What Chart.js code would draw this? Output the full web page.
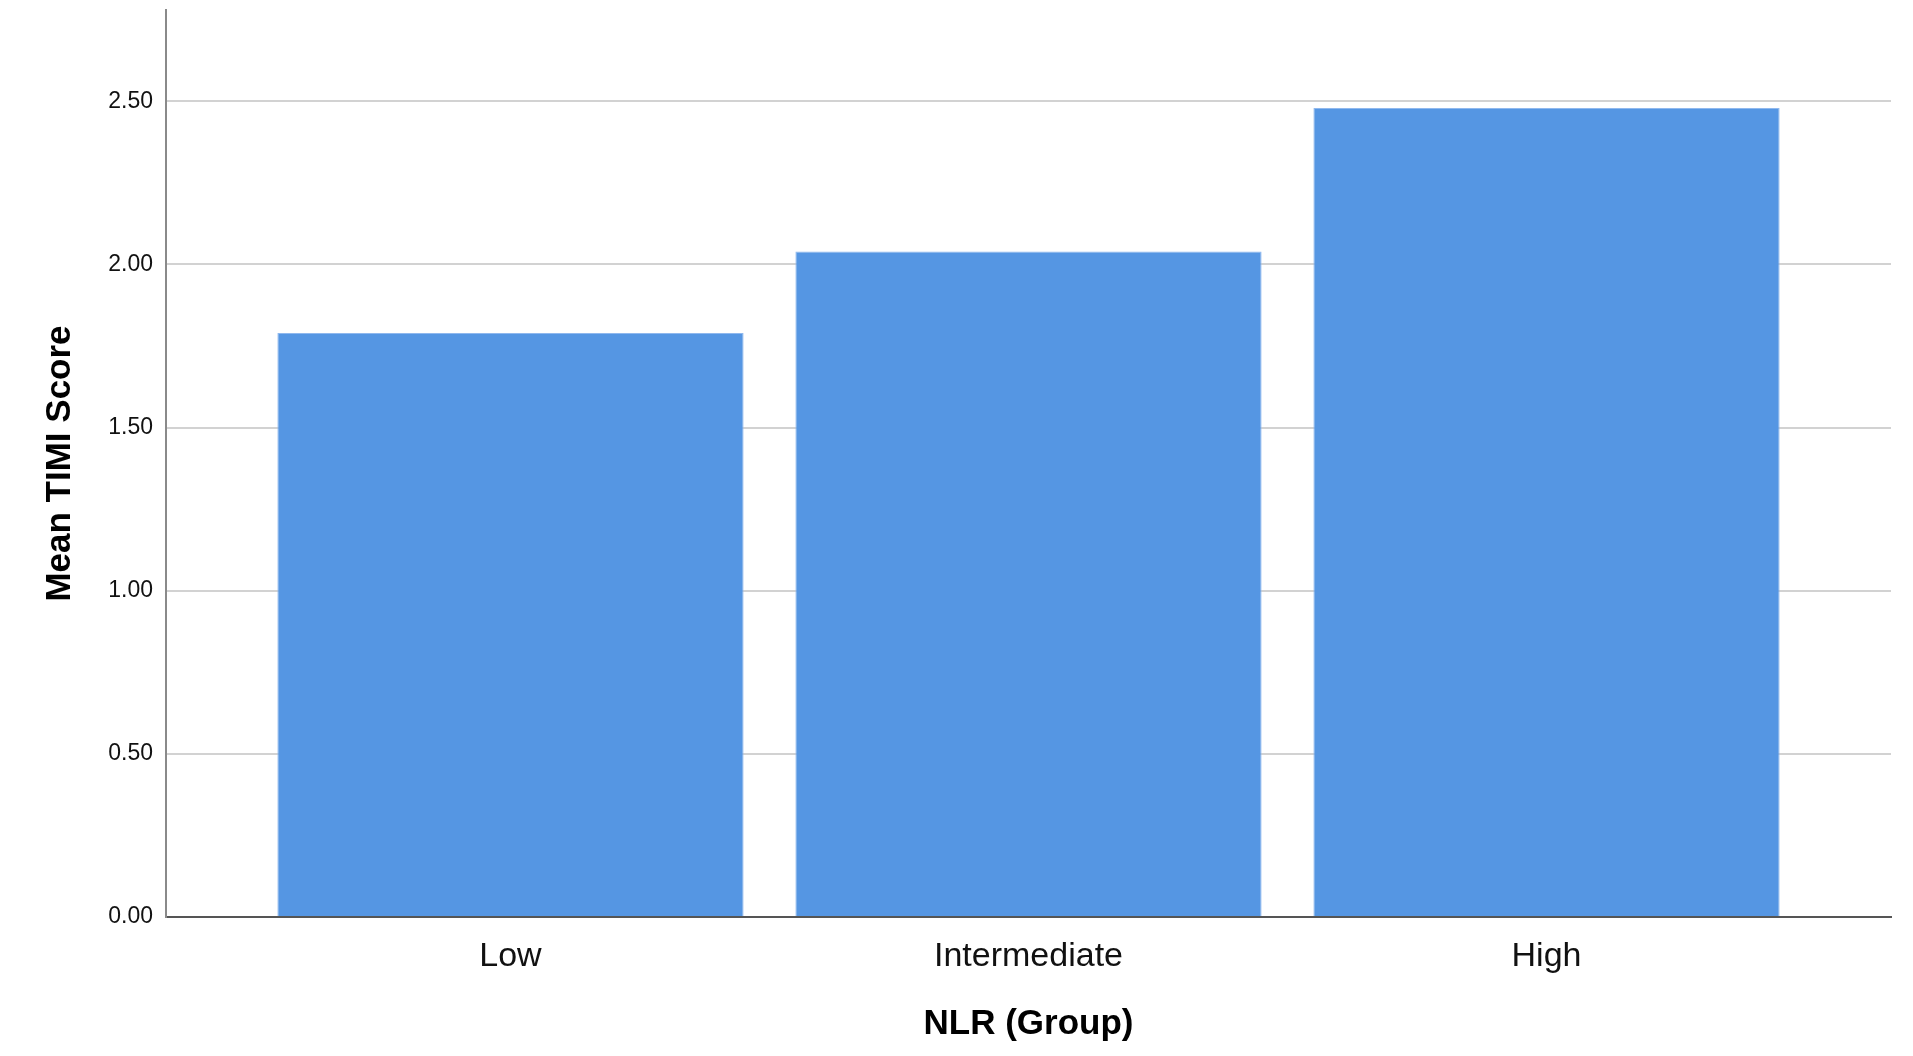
<!DOCTYPE html>
<html>
<head>
<meta charset="utf-8">
<script src="https://cdn.jsdelivr.net/npm/chart.js@4.4.1/dist/chart.umd.min.js"></script>
<style>
	html, body { margin: 0; padding: 0; background: #ffffff; }
	#wrap { width: 1913px; height: 1056px; }
</style>
</head>
<body>
<div id="wrap"><canvas id="timiChart" width="1913" height="1056"></canvas></div>
<script>
// categories and means
var groups = ["Low", "Intermediate", "High"];
var meanTimi = [1.79, 2.04, 2.48];
var yTicks = [0, 0.5, 1, 1.5, 2, 2.5];

var fontFamily = "'Liberation Sans', Arial, sans-serif";

var ctx = document.getElementById('timiChart').getContext('2d');

var dataset = {
	datasets: [
		{
		label: 'Mean TIMI Score',
		backgroundColor: '#5596e3',
		borderColor: '#8fb8ee',
		borderWidth: 1,
		barPercentage: 0.9,
		categoryPercentage: 1.0,
		data: meanTimi.map((v, i) => ({x: i, y: v}))
		}
	]
};

var options = {
	responsive: false,
	animation: false,
	layout: {
		padding: {top: 10, right: 22, bottom: 0, left: 0}
	},
	plugins: {
		legend: {display: false},
		tooltip: {enabled: false}
	},
	scales: {
		x: {
			type: 'linear',
			offset: false,
			bounds: 'data',
			min: -0.665,
			max: 2.665,
			afterBuildTicks: function(scale) {
				scale.ticks = groups.map((g, i) => ({value: i}));
			},
			afterFit: function(scale) {
				scale.height = 139;
				scale.paddingLeft = 0;
				scale.paddingRight = 0;
			},
			grid: {display: false, drawTicks: false},
			border: {display: true, color: '#555555', width: 2},
			ticks: {
				padding: 19,
				color: '#111111',
				font: {family: fontFamily, size: 34},
				callback: function(value) { return groups[value]; }
			},
			title: {
				display: true,
				text: 'NLR (Group)',
				color: '#000000',
				font: {family: fontFamily, size: 35, weight: 'bold'},
				padding: {top: 0, bottom: 11}
			}
		},
		y: {
			min: 0,
			max: 2.78,
			afterBuildTicks: function(scale) {
				scale.ticks = yTicks.map((v) => ({value: v}));
			},
			afterFit: function(scale) {
				scale.width = 166;
				scale.paddingTop = 0;
				scale.paddingBottom = 0;
			},
			grid: {color: '#d2d2d2', lineWidth: 2, drawTicks: false},
			border: {display: true, color: '#8a8a8a', width: 2},
			ticks: {
				padding: 13,
				color: '#111111',
				font: {family: fontFamily, size: 23},
				callback: function(value) { return value.toFixed(2); }
			},
			title: {
				display: true,
				text: 'Mean TIMI Score',
				color: '#000000',
				font: {family: fontFamily, size: 35, weight: 'bold'},
				padding: {top: 39, bottom: 0}
			}
		}
	}
};

new Chart(ctx, {
	type: 'bar',
	data: dataset,
	options: options
});
</script>
</body>
</html>
